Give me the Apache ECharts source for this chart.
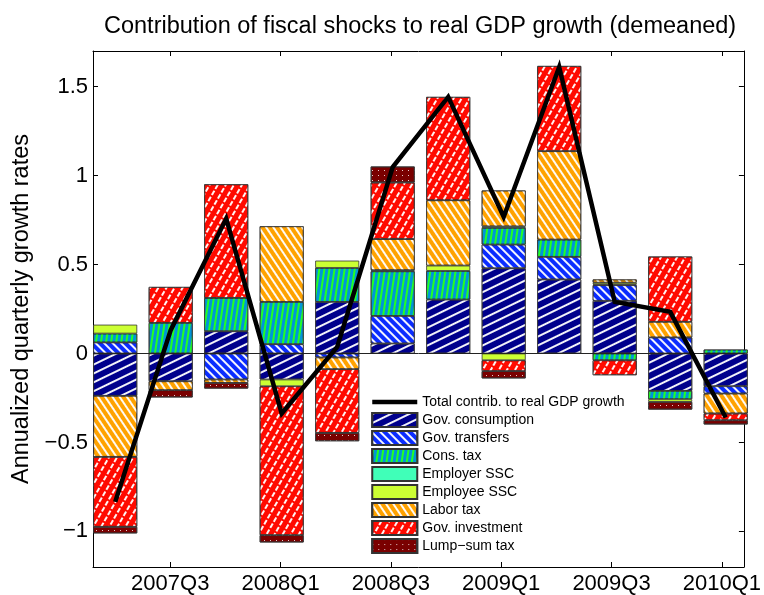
<!DOCTYPE html>
<html>
<head>
<meta charset="utf-8">
<script src="https://cdn.jsdelivr.net/npm/echarts@6/dist/echarts.min.js"></script>
<style>
html,body{margin:0;padding:0;background:#fff;}
#chart{width:764px;height:595px;}
</style>
</head>
<body>
<div id="chart"></div>
<script>
// ---- data ----
const quarters = ['2007Q2','2007Q3','2007Q4','2008Q1','2008Q2','2008Q3','2008Q4','2009Q1','2009Q2','2009Q3','2009Q4','2010Q1'];
const labelQuarters = ['2007Q3','2008Q1','2008Q3','2009Q1','2009Q3','2010Q1'];
const yTicks = [-1, -0.5, 0, 0.5, 1, 1.5];

const govConsumption = [-0.238, -0.156, 0.125, -0.146, 0.290, 0.056, 0.303, 0.479, 0.416, 0.296, -0.210, -0.184];
const govTransfers   = [0.062, 0, -0.146, 0.052, -0.022, 0.155, 0, 0.133, 0.127, 0.088, 0.090, -0.041];
const consTax        = [0.050, 0.172, 0.187, 0.238, 0.191, 0.251, 0.161, 0.094, 0.097, -0.038, -0.047, 0.022];
const employerSSC    = [0, 0, 0, 0, 0, 0.006, 0, 0.008, 0, 0.004, 0, 0];
const employeeSSC    = [0.050, 0, 0, -0.038, 0.041, 0, 0.030, -0.038, 0, 0.010, -0.015, 0];
const laborTax       = [-0.343, -0.050, -0.019, 0.425, -0.066, 0.175, 0.367, 0.202, 0.497, 0.018, 0.088, -0.112];
const govInvestment  = [-0.393, 0.202, 0.639, -0.837, -0.358, 0.318, 0.581, -0.061, 0.479, -0.084, 0.367, -0.038];
const lumpSumTax     = [-0.037, -0.041, -0.032, -0.041, -0.047, 0.090, 0, -0.041, 0, 0, -0.043, -0.024];
const totalContrib   = [-0.834, 0.131, 0.758, -0.337, 0.037, 1.048, 1.442, 0.767, 1.610, 0.290, 0.234, -0.360];

const seriesNames = ['Gov. consumption','Gov. transfers','Cons. tax','Employer SSC','Employee SSC','Labor tax','Gov. investment','Lump\u2212sum tax'];
const seriesValues = [govConsumption, govTransfers, consTax, employerSSC, employeeSSC, laborTax, govInvestment, lumpSumTax];
const totalName = 'Total contrib. to real GDP growth';

// ---- styles ----
const FONT = "'Liberation Sans', Arial, Helvetica, sans-serif";
const W = 'rgba(255,255,255,0.95)';
const styles = [
  {color:'#00008c', decal:{symbol:'rect', symbolSize:1, color:W, dashArrayX:[1,0], dashArrayY:[2,6], rotation:-0.45}},
  {color:'#0a2cff', decal:{symbol:'rect', symbolSize:1, color:W, dashArrayX:[1,0], dashArrayY:[1.5,3.5], rotation:Math.PI/4}},
  {color:'#0096d8', decal:{symbol:'rect', symbolSize:1, color:'#22ff22', dashArrayX:[2,3], dashArrayY:[1,0], rotation:0.15}},
  {color:'#40ffb8', decal:null},
  {color:'#ccff33', decal:null},
  {color:'#ffa200', decal:{symbol:'rect', symbolSize:1, color:W, dashArrayX:[1,0], dashArrayY:[2,4], rotation:Math.PI/3.2}},
  {color:'#ff0a00', decal:{symbol:'rect', symbolSize:1, color:W, dashArrayX:[5,2], dashArrayY:[2,5], rotation:-Math.PI/3}},
  {color:'#7a0000', decal:{symbol:'rect', symbolSize:1, color:'rgba(255,255,255,0.8)', dashArrayX:[1,5], dashArrayY:[1,4]}}
];

const barSeries = seriesNames.map((name, i) => ({
  name: name,
  type: 'bar',
  stack: 'contrib',
  xAxisIndex: 0, yAxisIndex: 0,
  barWidth: 44,
  z: 2,
  itemStyle: {
    color: styles[i].color,
    borderColor: '#333',
    borderWidth: 0.8,
    decal: styles[i].decal || undefined
  },
  emphasis: {disabled: true},
  data: seriesValues[i].map(v => (v === 0 ? null : v))
}));

const lineSeries = {
  name: totalName,
  type: 'line',
  xAxisIndex: 0, yAxisIndex: 0,
  symbol: 'none',
  z: 5,
  lineStyle: {color: '#000', width: 4.5, join: 'miter'},
  itemStyle: {color: '#000'},
  emphasis: {disabled: true},
  data: totalContrib
};

// zero baseline drawn in the framed grid
const zeroSeries = {
  name: 'zero',
  type: 'line',
  xAxisIndex: 1, yAxisIndex: 1,
  data: [],
  z: 3,
  markLine: {
    silent: true, symbol: 'none', z: 3,
    label: {show: false},
    lineStyle: {color: '#222', width: 1, type: 'solid'},
    data: [[{coord: [0.6, 0]}, {coord: [12.4, 0]}]]
  }
};

const xTickVals = labelQuarters.map(q => quarters.indexOf(q) + 1);

const chart = echarts.init(document.getElementById('chart'), null, {renderer: 'canvas'});
chart.setOption({
  animation: false,
  backgroundColor: '#fff',
  textStyle: {fontFamily: FONT},
  title: {
    text: 'Contribution of fiscal shocks to real GDP growth (demeaned)',
    left: 104, top: 15, padding: 0,
    textStyle: {fontFamily: FONT, fontSize: 23.5, fontWeight: 'normal', color: '#000'}
  },
  grid: [
    {left: 87.45, right: 10.55, top: 51, bottom: 28, containLabel: false},
    {left: 93, right: 16, top: 51, bottom: 28, containLabel: false}
  ],
  legend: {
    orient: 'vertical',
    left: 370, top: 394, padding: 0,
    itemWidth: 45, itemHeight: 14, itemGap: 2,
    textStyle: {fontFamily: FONT, fontSize: 14, color: '#000', lineHeight: 16},
    data: [{name: totalName, itemStyle: {opacity: 0}, lineStyle: {width: 4.5, color: '#000'}}]
      .concat(seriesNames.map(n => ({name: n, icon: 'rect'})))
  },
  xAxis: [{
    type: 'category', gridIndex: 0, data: quarters, boundaryGap: true,
    axisLine: {show: false}, axisTick: {show: false}, axisLabel: {show: false}, splitLine: {show: false}
  }, {
    type: 'value', gridIndex: 1, min: 0.6, max: 12.4, position: 'bottom',
    axisLine: {onZero: false, lineStyle: {color: '#000', width: 1}},
    axisTick: {inside: true, length: 5, customValues: xTickVals, lineStyle: {color: '#000'}},
    axisLabel: {customValues: xTickVals, margin: 6, fontFamily: FONT, fontSize: 22, color: '#000',
      formatter: v => quarters[Math.round(v) - 1]},
    splitLine: {show: false}
  }, {
    type: 'value', gridIndex: 1, min: 0.6, max: 12.4, position: 'top',
    axisLine: {onZero: false, lineStyle: {color: '#000', width: 1}},
    axisTick: {inside: true, length: 5, customValues: xTickVals, lineStyle: {color: '#000'}},
    axisLabel: {show: false},
    splitLine: {show: false}
  }],
  yAxis: [{
    type: 'value', gridIndex: 0, min: -1.2, max: 1.7,
    axisLine: {show: false}, axisTick: {show: false}, axisLabel: {show: false}, splitLine: {show: false}
  }, {
    type: 'value', gridIndex: 1, min: -1.2, max: 1.7, position: 'left',
    name: 'Annualized quarterly growth rates', nameLocation: 'middle', nameGap: 58, nameRotate: 90,
    nameTextStyle: {fontFamily: FONT, fontSize: 23.5, color: '#000'},
    axisLine: {show: true, onZero: false, lineStyle: {color: '#000', width: 1}},
    axisTick: {show: true, inside: true, length: 5, customValues: yTicks, lineStyle: {color: '#000'}},
    axisLabel: {customValues: yTicks, margin: 5, fontFamily: FONT, fontSize: 22, color: '#000',
      formatter: v => (v < 0 ? '\u2212' + String(-v) : String(v))},
    splitLine: {show: false}
  }, {
    type: 'value', gridIndex: 1, min: -1.2, max: 1.7, position: 'right',
    axisLine: {show: true, onZero: false, lineStyle: {color: '#000', width: 1}},
    axisTick: {show: true, inside: true, length: 5, customValues: yTicks, lineStyle: {color: '#000'}},
    axisLabel: {show: false},
    splitLine: {show: false}
  }],
  series: barSeries.concat([lineSeries, zeroSeries])
});
</script>
</body>
</html>
